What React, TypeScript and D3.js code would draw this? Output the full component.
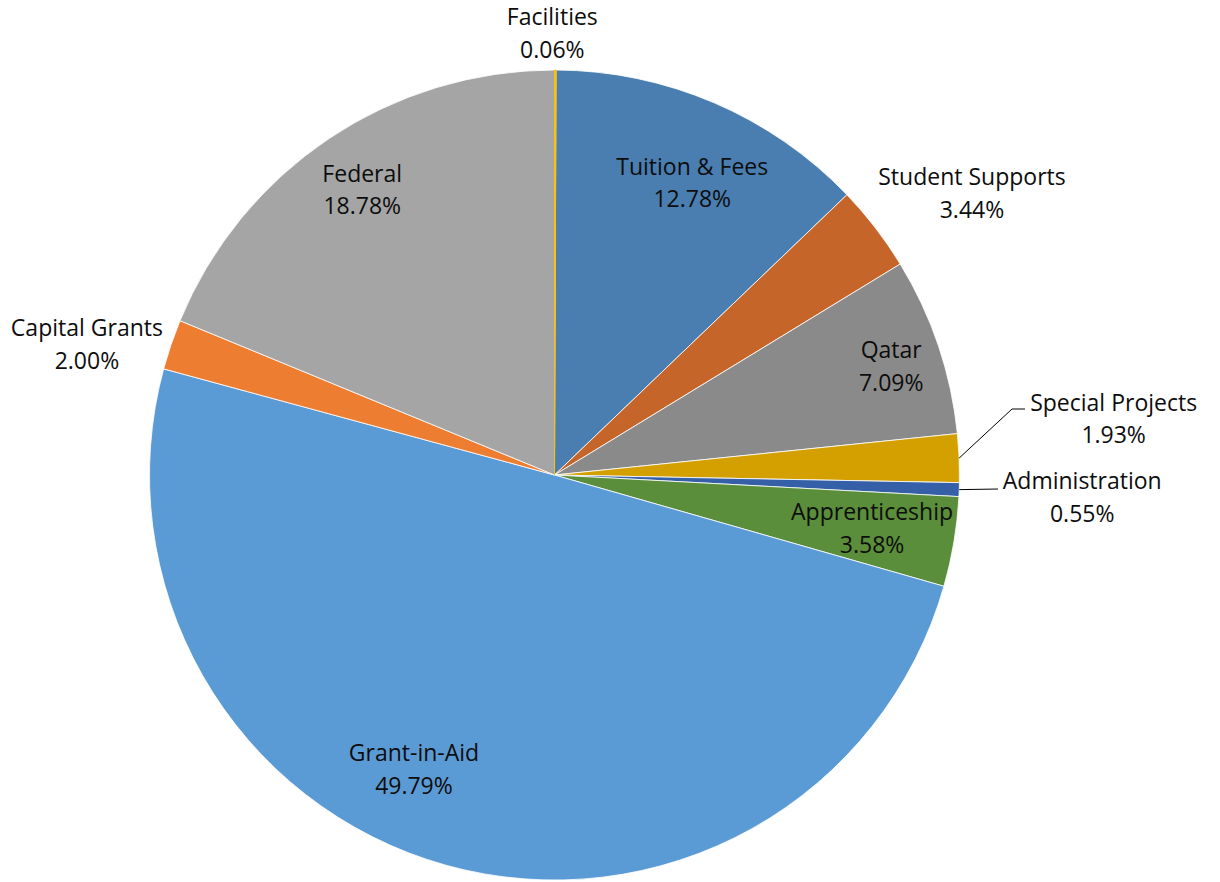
import React from "react";
import * as d3 from "d3";

const categories = [
  "Facilities",
  "Tuition & Fees",
  "Student Supports",
  "Qatar",
  "Special Projects",
  "Administration",
  "Apprenticeship",
  "Grant-in-Aid",
  "Capital Grants",
  "Federal",
];
const values = [0.06, 12.78, 3.44, 7.09, 1.93, 0.55, 3.58, 49.79, 2.0, 18.78];
const colors = [
  "#FFC000",
  "#4A7EB0",
  "#C5652A",
  "#8A8A8A",
  "#D4A000",
  "#3560A8",
  "#5A8E3A",
  "#5B9BD5",
  "#ED7D31",
  "#A5A5A5",
];

// label layout: radius factor along the slice mid-angle plus an offset,
// leader: optional elbow points
type Layout = { rf: number; dx: number; dy: number; leader?: number[][] };
const layout: Layout[] = [
  { rf: 1.09, dx: -3, dy: 0 },
  { rf: 0.8, dx: 10, dy: 6 },
  { rf: 1.24, dx: 19.5, dy: 25 },
  { rf: 0.85, dx: 10.5, dy: 1.5 },
  { rf: 1.0, dx: 154.5, dy: -39, leader: [[1012, 409], [1025, 409]] },
  { rf: 1.0, dx: 123, dy: 8, leader: [[998, 489]] },
  { rf: 0.8, dx: -2, dy: 0 },
  { rf: 0.75, dx: -59, dy: 2 },
  { rf: 1.2, dx: -7.5, dy: 26 },
  { rf: 0.8, dx: -12, dy: -16 },
];

const W = 1220;
const H = 882;
const CX = 554.5;
const CY = 475;
const R = 405;
const LINE = 32.5;

export default function App() {
  const pie = d3
    .pie<number>()
    .sort(null)
    .value((d) => d)
    .startAngle(0)
    .endAngle(2 * Math.PI);
  const arcs = pie(values);
  const arc = d3.arc<d3.PieArcDatum<number>>().innerRadius(0).outerRadius(R);
  const total = d3.sum(values);
  const fmt = d3.format(".2f");
  const thin = arcs
    .map((a, i) => ({ a, i }))
    .filter(({ a }) => (a.endAngle - a.startAngle) * R < 3);

  return (
    <svg
      width={W}
      height={H}
      style={{ position: "absolute", left: 0, top: 0, background: "#fff" }}
      fontFamily="'Open Sans', sans-serif"
      fontSize={23}
    >
      <g transform={`translate(${CX},${CY})`}>
        {arcs.map((a, i) => (
          <path key={i} d={arc(a) || ""} fill={colors[i]} stroke="#fff" strokeWidth={0.8} />
        ))}
        {thin.map(({ a, i }) => (
          <path key={"t" + i} d={arc(a) || ""} fill={colors[i]} stroke={colors[i]} strokeWidth={1} />
        ))}
      </g>
      {arcs.map((a, i) => {
        const mid = (a.startAngle + a.endAngle) / 2;
        const L = layout[i];
        const r = R * L.rf;
        const px = CX + r * Math.sin(mid) + L.dx;
        const py = CY - r * Math.cos(mid) + L.dy;
        const pct = fmt((values[i] / total) * 100) + "%";
        let leader: React.ReactNode = null;
        if (L.leader) {
          const ex = CX + R * Math.sin(mid);
          const ey = CY - R * Math.cos(mid);
          const pts = [[ex, ey], ...L.leader];
          leader = (
            <path
              d={d3.line()(pts as [number, number][]) || ""}
              fill="none"
              stroke="#000"
              strokeWidth={1}
            />
          );
        }
        return (
          <g key={i}>
            {leader}
            <text textAnchor="middle" fill="#0d0d0d" x={px} y={py - LINE / 2 + 8}>
              {categories[i]}
            </text>
            <text textAnchor="middle" fill="#0d0d0d" x={px} y={py + LINE / 2 + 8}>
              {pct}
            </text>
          </g>
        );
      })}
    </svg>
  );
}
